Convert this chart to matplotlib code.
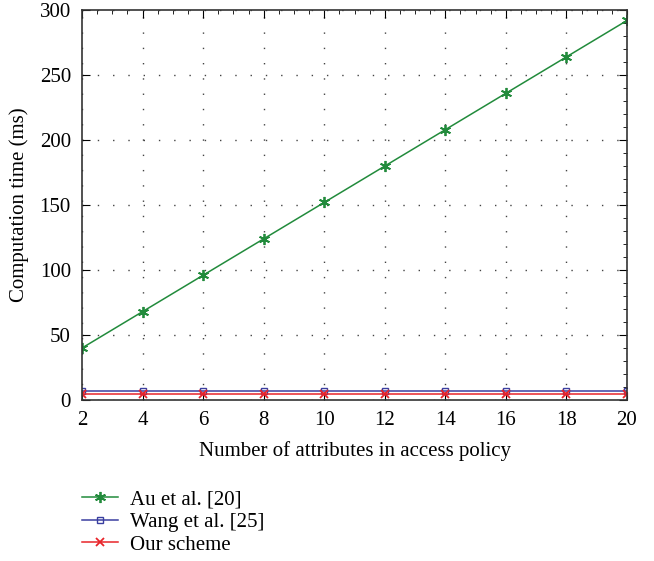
import matplotlib
matplotlib.use('Agg')
import matplotlib.pyplot as plt

## datos
attrs = [2, 4, 6, 8, 10, 12, 14, 16, 18, 20]
au = [40, 68, 96, 124, 152, 180, 208, 236, 264, 292]
wang = [7, 7, 7, 7, 7, 7, 7, 7, 7, 7]
ours = [4.5, 4.5, 4.5, 4.5, 4.5, 4.5, 4.5, 4.5, 4.5, 4.5]

plt.rcParams['font.family'] = ['Liberation Serif', 'DejaVu Serif']
plt.rcParams['font.size'] = 15

fig = plt.figure(figsize=(6.54, 5.61), dpi=100)
ax = fig.add_axes([0.1254, 0.287, 0.8333, 0.695])

ax.plot(attrs, au, color='#228b3c', marker=(6, 2, 0), markersize=8, mew=1.3, lw=1.1, label='Au et al. [20]')
ax.plot(attrs, wang, color='#3a3fa0', marker='s', markersize=5, mfc='none', lw=1.1, label='Wang et al. [25]')
ax.plot(attrs, ours, color='#e8242a', marker='x', markersize=6, mew=1.3, lw=1.1, label='Our scheme')

ax.set_xlim(2, 20)
ax.set_ylim(0, 300)
ax.set_xticks(range(2, 21, 2))
ax.set_yticks(range(0, 301, 50))
ax.grid(True, linestyle=(0, (1, 10)), color='#444444', lw=1.0)
ax.tick_params(direction='in', top=True, right=True, length=6, pad=8)
ax.minorticks_on()
ax.tick_params(which='minor', direction='in', top=True, right=True,
               left=False, bottom=False, length=3)
for s in ax.spines.values():
    s.set_linewidth(1.2)
    s.set_color('#333333')

ax.set_xlabel('Number of attributes in access policy', labelpad=8)
ax.set_ylabel('Computation time (ms)', labelpad=8)

fig.legend(loc='upper left', bbox_to_anchor=(0.11, 0.146), frameon=False,
           handlelength=1.7, labelspacing=0.15, borderpad=0, handletextpad=0.6,
           bbox_transform=fig.transFigure)

plt.savefig('out.png', dpi=100)
